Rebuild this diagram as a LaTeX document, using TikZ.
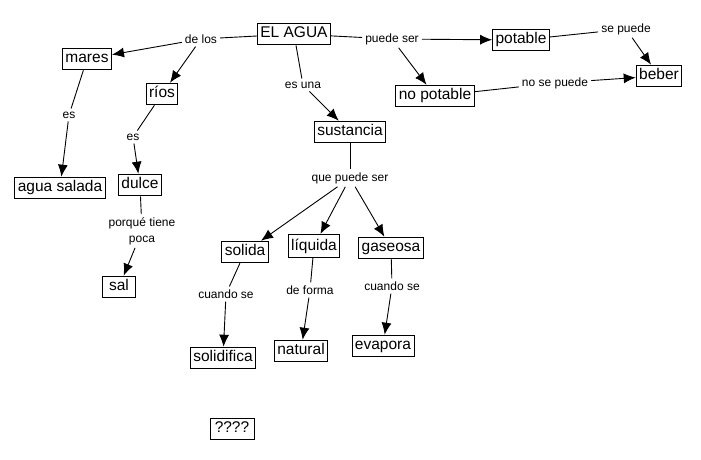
\documentclass[tikz,border=0pt]{standalone}
\usepackage{fontspec}
\setmainfont{Liberation Sans}
\usepackage{tikz}
\usetikzlibrary{arrows.meta}

\begin{document}
\begin{tikzpicture}[x=1pt,y=-1pt,
	concept/.style={draw,line width=0.9pt,font=\fontsize{15.5}{16}\selectfont,inner xsep=3pt,inner ysep=3.5pt,text height=11.3pt,text depth=3.4pt},
	link/.style={font=\fontsize{12}{16}\selectfont,inner sep=3pt,align=center},
	conn/.style={line width=0.9pt},
	arr/.style={line width=0.9pt,-{Latex[length=12pt,width=10pt]}}]

\useasboundingbox (0,0) rectangle (701,460);

\node[concept] (agua) at (294,34) {EL AGUA};
\node[concept] (mares) at (87,59) {mares};
\node[concept] (rios) at (162,94) {ríos};
\node[concept] (salada) at (60,188) {agua salada};
\node[concept] (dulce) at (140,185) {dulce};
\node[concept,minimum width=33pt] (sal) at (119,287) {sal};
\node[concept] (sustancia) at (350,132) {sustancia};
\node[concept] (potable) at (521,40) {potable};
\node[concept] (nopotable) at (435,96) {no potable};
\node[concept] (beber) at (659,76) {beber};
\node[concept] (solida) at (245,252) {solida};
\node[concept,text height=12.5pt,text depth=3.8pt] (liquida) at (314,246) {líquida};
\node[concept] (gaseosa) at (391,248) {gaseosa};
\node[concept] (solidifica) at (223,358) {solidifica};
\node[concept] (natural) at (301,351) {natural};
\node[concept] (evapora) at (383,346) {evapora};
\node[concept,minimum width=44pt] (duda) at (232,429) {????};

\node[link] (delos) at (201,39) {de los};
\node[link] (esuna) at (303,85) {es una};
\node[link] (puede) at (392,39) {puede ser};
\node[link] (sepuede) at (626,29) {se puede};
\node[link] (nosepuede) at (555,83) {no se puede};
\node[link] (esmares) at (69,115) {es};
\node[link] (esrios) at (133,137) {es};
\node[link] (porque) at (142,231) {porqué tiene\\poca};
\node[link] (quepuede) at (350,178) {que puede ser};
\node[link] (cuandosol) at (226,294) {cuando se};
\node[link] (deforma) at (310,290) {de forma};
\node[link] (cuandogas) at (392,286) {cuando se};

\draw[conn] (agua) -- (delos);
\draw[arr] (delos) -- (mares);
\draw[arr] (delos) -- (rios);

\draw[conn] (agua) -- (esuna);
\draw[arr] (esuna) -- (sustancia);

\draw[conn] (agua) -- (puede);
\draw[arr] (puede) -- (potable);
\draw[arr] (puede) -- (nopotable);

\draw[conn] (potable) -- (sepuede);
\draw[arr] (sepuede) -- (beber);

\draw[conn] (nopotable) -- (nosepuede);
\draw[arr] (nosepuede) -- (beber);

\draw[conn] (mares) -- (esmares);
\draw[arr] (esmares) -- (salada);

\draw[conn] (rios) -- (esrios);
\draw[arr] (esrios) -- (dulce);

\draw[conn] (dulce) -- (porque);
\draw[arr] (porque) -- (sal);

\draw[conn] (sustancia) -- (quepuede);
\draw[arr] (quepuede) -- (solida);
\draw[arr] (quepuede) -- (liquida);
\draw[arr] (quepuede) -- (gaseosa);

\draw[conn] (solida) -- (cuandosol);
\draw[arr] (cuandosol) -- (solidifica);

\draw[conn] (liquida) -- (deforma);
\draw[arr] (deforma) -- (natural);

\draw[conn] (gaseosa) -- (cuandogas);
\draw[arr] (cuandogas) -- (evapora);

\end{tikzpicture}
\end{document}
